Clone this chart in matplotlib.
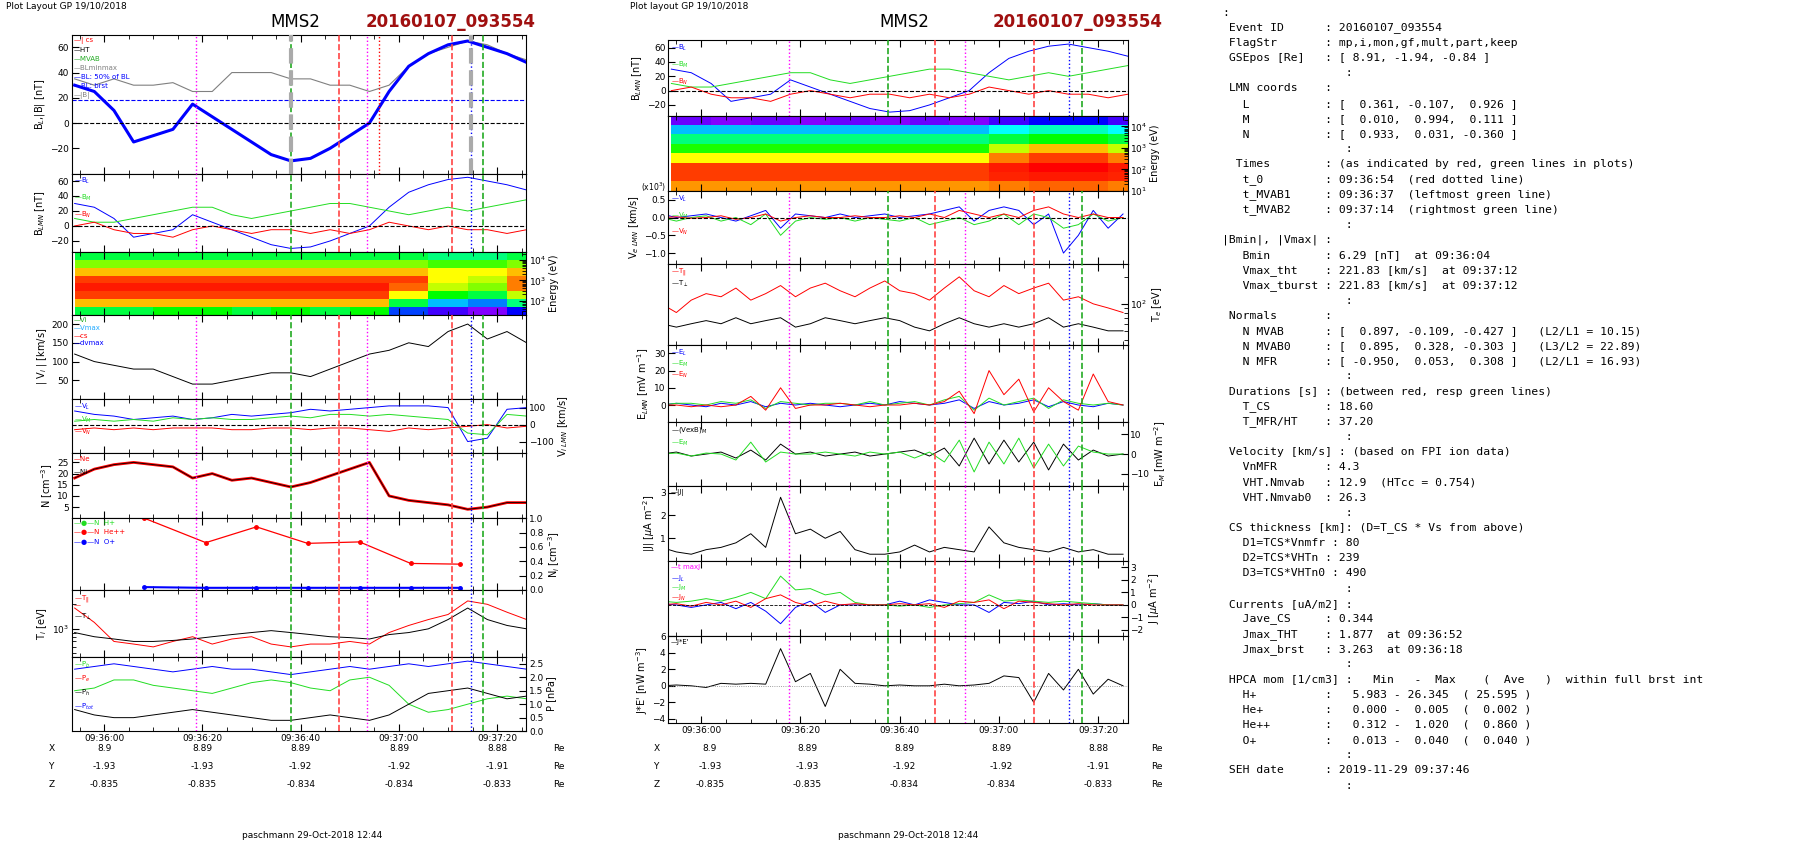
import numpy as np
import matplotlib
matplotlib.use("Agg")
import matplotlib.pyplot as plt
from matplotlib.colors import LinearSegmentedColormap
from matplotlib.ticker import NullFormatter, LogLocator, LogFormatterMathtext

# layout in reference pixels (image seen at 1560 x 727)
W, H = 1560.0, 727.0

# time grids, seconds after 09:36:00
t4 = np.arange(-6, 87, 4)
t3 = np.arange(-8, 87, 3)
tick_labels = ["09:36:00", "09:36:20", "09:36:40", "09:37:00", "09:37:20"]

# ---- left column data (4 s samples) ----
bl = [30, 25, 10, -15, -10, -5, 15, 5, -5, -15, -25, -30, -28, -20, -10, 0, 25, 45, 55, 62, 65, 60, 55, 48]
bmag = [35, 30, 35, 30, 30, 32, 25, 25, 40, 40, 40, 35, 35, 30, 30, 25, 30, 45, 55, 60, 65, 62, 55, 50]
bm = [10, 5, 5, 10, 15, 20, 25, 25, 15, 10, 15, 20, 25, 30, 30, 25, 20, 15, 20, 25, 20, 25, 30, 35]
bn = [0, 5, -5, -10, -10, -15, -5, 0, -5, -10, -5, -5, -10, -5, -10, -5, 5, 0, -5, 0, -5, -5, -10, -5]
vi_abs = [120, 100, 90, 80, 80, 60, 40, 40, 50, 60, 70, 70, 60, 80, 100, 120, 130, 150, 140, 180, 200, 160, 180, 150]
vi_l = [80, 60, 50, 30, 40, 50, 30, 40, 60, 50, 60, 70, 90, 80, 90, 100, 110, 110, 110, 100, -100, -80, 90, 100]
vi_m = [20, 30, 20, 30, 20, 40, 30, 40, 30, 30, 40, 50, 40, 60, 60, 50, 60, 50, 40, 30, -50, -60, 60, 50]
vi_n = [-30, -20, -30, -20, -30, -20, -20, -20, -30, -30, -20, -20, -30, -20, -20, -30, -40, -20, -30, -20, -10, 0, -20, -10]
n_i = [18, 22, 24, 25, 24, 23, 18, 20, 17, 18, 16, 14, 16, 19, 22, 25, 10, 8, 7, 6, 4, 5, 7, 7]
ti_par = [1800, 1200, 700, 650, 600, 700, 800, 650, 750, 800, 650, 600, 650, 650, 700, 650, 900, 1100, 1300, 1500, 2200, 2000, 1600, 1300]
ti_perp = [900, 800, 750, 700, 700, 720, 750, 800, 850, 900, 950, 900, 850, 800, 780, 750, 850, 900, 1000, 1300, 1800, 1300, 1100, 1000]
p_tot = [2.3, 2.4, 2.5, 2.4, 2.3, 2.2, 2.3, 2.4, 2.3, 2.3, 2.2, 2.1, 2.2, 2.3, 2.4, 2.3, 2.4, 2.5, 2.4, 2.5, 2.6, 2.5, 2.4, 2.3]
p_b = [1.5, 1.6, 1.9, 1.9, 1.7, 1.6, 1.5, 1.4, 1.6, 1.8, 1.9, 1.8, 1.6, 1.5, 1.9, 2.0, 1.7, 1.0, 0.7, 0.8, 1.0, 1.2, 1.3, 1.2]
p_h = [0.8, 0.6, 0.5, 0.5, 0.6, 0.7, 0.8, 0.7, 0.6, 0.5, 0.4, 0.4, 0.5, 0.6, 0.5, 0.4, 0.6, 1.0, 1.4, 1.5, 1.6, 1.4, 1.2, 1.3]
hepp_t = [8.2, 20.7, 31, 41.4, 52, 62.4, 72.5]
hepp_n = [1.0, 0.66, 0.88, 0.65, 0.67, 0.37, 0.36]
op_n = [0.04, 0.03, 0.03, 0.03, 0.03, 0.03, 0.03]

# spectrogram bins: 8 energy rows (low to high) x 12 time columns of 8 s
spec_t = np.arange(-6, 91, 8)
ion_e = np.logspace(1.3, 4.4, 9)
ion_spec = [
    [0.55, 0.55, 0.6, 0.6, 0.55, 0.6, 0.55, 0.6, 0.25, 0.15, 0.1, 0.2],
    [0.85, 0.85, 0.85, 0.85, 0.85, 0.85, 0.85, 0.85, 0.55, 0.35, 0.3, 0.5],
    [0.95, 0.95, 0.95, 0.95, 0.95, 0.95, 0.95, 0.95, 0.8, 0.6, 0.55, 0.75],
    [0.98, 0.98, 0.98, 0.98, 0.98, 0.98, 0.98, 0.98, 0.92, 0.75, 0.7, 0.9],
    [0.95, 0.95, 0.95, 0.95, 0.95, 0.95, 0.95, 0.95, 0.95, 0.8, 0.75, 0.9],
    [0.85, 0.85, 0.85, 0.85, 0.85, 0.85, 0.85, 0.85, 0.85, 0.8, 0.8, 0.85],
    [0.7, 0.7, 0.7, 0.7, 0.7, 0.7, 0.7, 0.7, 0.7, 0.65, 0.65, 0.7],
    [0.55, 0.55, 0.55, 0.55, 0.55, 0.55, 0.55, 0.55, 0.55, 0.5, 0.5, 0.55],
]
ele_e = np.logspace(1.0, 4.5, 9)
ele_spec = [
    [0.88, 0.88, 0.88, 0.88, 0.88, 0.88, 0.88, 0.88, 0.9, 0.92, 0.92, 0.9],
    [0.95, 0.95, 0.95, 0.95, 0.95, 0.95, 0.95, 0.95, 0.97, 0.98, 0.98, 0.97],
    [0.95, 0.95, 0.95, 0.95, 0.95, 0.95, 0.95, 0.95, 0.98, 1.0, 1.0, 0.98],
    [0.8, 0.8, 0.8, 0.8, 0.8, 0.8, 0.8, 0.8, 0.9, 0.95, 0.95, 0.9],
    [0.62, 0.62, 0.62, 0.62, 0.62, 0.62, 0.62, 0.62, 0.75, 0.85, 0.85, 0.75],
    [0.5, 0.5, 0.5, 0.5, 0.5, 0.5, 0.5, 0.5, 0.55, 0.6, 0.6, 0.55],
    [0.35, 0.35, 0.35, 0.35, 0.35, 0.35, 0.35, 0.35, 0.4, 0.45, 0.45, 0.4],
    [0.12, 0.1, 0.12, 0.1, 0.12, 0.1, 0.12, 0.1, 0.15, 0.2, 0.2, 0.15],
]

# ---- middle column data (3 s samples) ----
ve_l = [0.1, 0, 0.05, 0.1, 0, -0.1, 0.05, 0.2, -0.3, 0.1, 0.05, 0, 0.1, 0, 0.05, 0.1, 0, 0.05, 0.1, 0.2, 0.3, -0.1, 0.2, 0.3, 0.2, -0.2, 0.1, -1.0, -0.5, 0.2, -0.3, 0.1]
ve_m = [0, -0.1, 0, 0.05, -0.1, 0, -0.2, 0.1, -0.5, -0.1, 0, -0.05, 0, -0.1, 0, -0.05, -0.1, 0, -0.2, -0.1, 0, -0.2, -0.1, 0.1, -0.2, 0.1, 0, -0.3, -0.2, 0.1, -0.1, 0]
ve_n = [0, 0.02, -0.02, 0, 0.05, -0.05, 0, 0.1, -0.1, 0, 0.05, 0, 0, 0.05, 0, 0, 0.05, 0, 0.1, 0, 0.2, 0.1, 0, 0.1, 0, 0.2, 0.3, 0.1, 0, 0.1, 0, 0]
te_par = [100, 80, 110, 130, 120, 150, 110, 130, 160, 120, 150, 170, 140, 120, 150, 180, 140, 130, 110, 150, 200, 140, 120, 160, 130, 150, 170, 110, 120, 100, 90, 80]
te_perp = [60, 55, 60, 65, 60, 70, 60, 65, 70, 55, 60, 70, 65, 60, 65, 70, 65, 55, 50, 60, 70, 60, 55, 60, 55, 60, 70, 55, 60, 55, 50, 50]
e_l = [0, 1, 0, -1, 1, 0, 2, -1, 1, 0, 1, 0, -1, 0, 1, 0, 2, 1, 0, 1, 3, -2, 2, 0, 1, 3, -1, 2, 0, -1, 1, 0]
e_m = [0, 1, 1, 0, 2, 1, 3, -2, 2, 1, 0, 1, 1, 0, 2, 0, 1, 2, 0, 3, 5, -3, 4, 0, 2, 4, -2, 3, 1, 0, 1, 0]
e_n = [0, 0, -1, 0, -1, 0, 5, -3, 10, -2, 0, 0, 1, 0, -1, 0, 0, 1, 0, 2, 8, -5, 20, 6, 15, -4, 10, 2, -3, 18, 2, 0]
vexb_m = [0, 1, -1, 0, 1, -2, 2, -3, 5, 0, 1, -1, 0, 1, -1, 0, 1, 2, -1, 3, -6, 8, -5, 7, -4, 6, -8, 5, -3, 2, -1, 0]
em_green = [0, 0.5, -1, 0.5, 0, -3, 6, -4, 1, 0, 0, 1, 0, -1, 1, 0, 1, -2, 1, -4, 7, -9, 6, -5, 8, -7, 5, -6, 4, 1, 0, 0]
j_abs = [0.6, 0.4, 0.3, 0.5, 0.6, 0.8, 1.2, 0.6, 2.8, 1.2, 1.4, 1.0, 1.3, 0.5, 0.3, 0.3, 0.4, 0.7, 0.4, 0.6, 0.5, 0.4, 1.5, 0.8, 0.6, 0.5, 0.4, 0.6, 0.4, 0.5, 0.3, 0.3]
j_l = [0.1, 0, -0.2, 0, 0.2, -0.3, 0.2, -0.5, -1.5, -0.2, 0.3, -0.6, 0, 0, 0, 0, 0.3, 0, 0.4, 0.2, 0, 0, -0.6, 0.2, 0.1, 0.3, 0, 0.1, 0, 0.1, 0, 0]
j_m = [0.3, 0.2, 0.3, 0.5, 0.3, 0.6, 1.0, 0.5, 2.3, 1.2, 1.3, 0.8, 1.0, 0.2, 0, 0, -0.1, 0, -0.2, 0, 0.1, 0.2, 0.8, 0.3, 0.4, 0.3, 0.2, 0.3, 0.2, 0.1, 0, 0]
j_n = [0, 0.1, -0.1, 0.2, 0, 0.3, -0.2, 0.5, 0.8, 0.2, -0.1, 0.3, 0, 0.1, 0, 0, 0.1, 0, 0.1, -0.2, 0.3, 0.2, 0.4, -0.3, 0.3, 0.2, 0.1, 0, 0.1, 0, 0, 0]
je = [0, 0.1, 0, -0.2, 0.3, 0.2, 0.3, 0.2, 4.5, 0.5, 1.5, -2.5, 2, 0.3, 0.2, 0, 0.1, 0, 0, 0.2, 0, 0.1, 0.3, 1.2, 1.0, -2, 1.5, -0.5, 2, -1, 0.8, 0]

# positions under the panels
pos_x = ["8.9", "8.89", "8.89", "8.89", "8.88"]
pos_y = ["-1.93", "-1.93", "-1.92", "-1.92", "-1.91"]
pos_z = ["-0.835", "-0.835", "-0.834", "-0.834", "-0.833"]

info_lines = [
    ":",
    " Event ID      : 20160107_093554",
    " FlagStr       : mp,i,mon,gf,mult,part,keep",
    " GSEpos [Re]   : [ 8.91, -1.94, -0.84 ]",
    "                  :",
    " LMN coords    :",
    "   L           : [  0.361, -0.107,  0.926 ]",
    "   M           : [  0.010,  0.994,  0.111 ]",
    "   N           : [  0.933,  0.031, -0.360 ]",
    "                  :",
    "  Times        : (as indicated by red, green lines in plots)",
    "   t_0         : 09:36:54  (red dotted line)",
    "   t_MVAB1     : 09:36:37  (leftmost green line)",
    "   t_MVAB2     : 09:37:14  (rightmost green line)",
    "                  :",
    "|Bmin|, |Vmax| :",
    "   Bmin        : 6.29 [nT]  at 09:36:04",
    "   Vmax_tht    : 221.83 [km/s]  at 09:37:12",
    "   Vmax_tburst : 221.83 [km/s]  at 09:37:12",
    "                  :",
    " Normals       :",
    "   N MVAB      : [  0.897, -0.109, -0.427 ]   (L2/L1 = 10.15)",
    "   N MVAB0     : [  0.895,  0.328, -0.303 ]   (L3/L2 = 22.89)",
    "   N MFR       : [ -0.950,  0.053,  0.308 ]   (L2/L1 = 16.93)",
    "                  :",
    " Durations [s] : (between red, resp green lines)",
    "   T_CS        : 18.60",
    "   T_MFR/HT    : 37.20",
    "                  :",
    " Velocity [km/s] : (based on FPI ion data)",
    "   VnMFR       : 4.3",
    "   VHT.Nmvab   : 12.9  (HTcc = 0.754)",
    "   VHT.Nmvab0  : 26.3",
    "                  :",
    " CS thickness [km]: (D=T_CS * Vs from above)",
    "   D1=TCS*Vnmfr : 80",
    "   D2=TCS*VHTn : 239",
    "   D3=TCS*VHTn0 : 490",
    "                  :",
    " Currents [uA/m2] :",
    "   Jave_CS     : 0.344",
    "   Jmax_THT    : 1.877  at 09:36:52",
    "   Jmax_brst   : 3.263  at 09:36:18",
    "                  :",
    " HPCA mom [1/cm3] :   Min   -  Max    (  Ave   )  within full brst int",
    "   H+          :   5.983 - 26.345  ( 25.595 )",
    "   He+         :   0.000 -  0.005  (  0.002 )",
    "   He++        :   0.312 -  1.020  (  0.860 )",
    "   O+          :   0.013 -  0.040  (  0.040 )",
    "                  :",
    " SEH date      : 2019-11-29 09:37:46",
    "                  :",
]

cmap = LinearSegmentedColormap.from_list(
    "idl", ["#ff00ff", "#0000ff", "#00ffff", "#00ff00", "#ffff00", "#ff0000"])

FS = 6.5
fig = plt.figure(figsize=(18.04, 8.41), dpi=100)


def panel(x0, x1, y0, y1, ylabel, right=False):
    ax = fig.add_axes([x0 / W, 1 - y1 / H, (x1 - x0) / W, (y1 - y0) / H])
    ax.set_xlim(-6.6, 85.9)
    ax.set_xticks([0, 20, 40, 60, 80])
    ax.set_xticks(np.arange(-5, 86, 5), minor=True)
    ax.set_xticklabels([])
    ax.tick_params(labelsize=FS, direction="in", top=True, length=5, width=0.8, pad=2)
    ax.tick_params(which="minor", direction="in", top=True, length=3)
    for s in ax.spines.values():
        s.set_linewidth(0.8)
    if right:
        ax.yaxis.tick_right()
        ax.yaxis.set_label_position("right")
    ax.set_ylabel(ylabel, fontsize=FS + 0.5, labelpad=2)
    return ax


def logy(ax, lo, hi):
    ax.set_yscale("log")
    ax.set_ylim(lo, hi)
    ax.yaxis.set_major_locator(LogLocator(base=10))
    ax.yaxis.set_major_formatter(LogFormatterMathtext())
    ax.yaxis.set_minor_formatter(NullFormatter())


def vlines(ax, lines):
    for t, c, ls, lw in lines:
        ax.axvline(t, color=c, ls=ls, lw=lw, zorder=5)


def legend(ax, names, colors, step=6.5):
    for i, (n, c) in enumerate(zip(names, colors)):
        ax.annotate("\u2014" + n, xy=(0.005, 1.0), xycoords="axes fraction",
                    xytext=(0, -2 - i * step), textcoords="offset points",
                    color=c, fontsize=5, va="top")


left_lines = [(18.8, "magenta", ":", 1), (38.1, "#22aa22", "--", 1.2), (47.8, "#ff4444", "--", 1.2),
              (53.6, "magenta", ":", 1), (70.8, "#ff4444", "--", 1.2), (74.6, "blue", ":", 1),
              (77.2, "#22aa22", "--", 1.2)]
mid_lines = [(17.6, "magenta", ":", 1), (37.6, "#22aa22", "--", 1.2), (47.1, "#ff4444", "--", 1.2),
             (53.1, "magenta", ":", 1), (67.0, "#ff4444", "--", 1.2), (74.2, "blue", ":", 1),
             (76.7, "#22aa22", "--", 1.2)]

# ================= left column =================
LX0, LX1 = 62, 455
ax = panel(LX0, LX1, 30, 150, r"B$_L$,|B| [nT]")
ax.plot(t4, bmag, color="gray", lw=0.8)
ax.plot(t4, bl, color="blue", lw=2.2)
ax.axhline(18, color="blue", ls="--", lw=0.8)
ax.axhline(0, color="black", ls="--", lw=0.8)
ax.set_ylim(-40, 70)
ax.set_yticks([-20, 0, 20, 40, 60])
vlines(ax, left_lines)
vlines(ax, [(38.1, "#aaaaaa", "--", 3), (74.6, "#aaaaaa", "--", 3), (56, "red", ":", 1)])
legend(ax, ["| cs", "HT", "MVAB", "BLminmax", "BL: 50% of BL", "BL: brst", "|B|"],
       ["red", "black", "#22aa22", "gray", "blue", "blue", "gray"])

ax = panel(LX0, LX1, 150, 218, r"B$_{LMN}$ [nT]")
ax.plot(t4, bl, color="blue", lw=0.7)
ax.plot(t4, bm, color="#22dd22", lw=0.7)
ax.plot(t4, bn, color="red", lw=0.7)
ax.axhline(0, color="black", ls="--", lw=0.8)
ax.set_ylim(-35, 70)
ax.set_yticks([-20, 0, 20, 40, 60])
vlines(ax, left_lines)
legend(ax, ["B$_L$", "B$_M$", "B$_N$"], ["blue", "#22dd22", "red"], step=12)

ax = panel(LX0, LX1, 218, 272, "Energy (eV)", right=True)
ax.pcolormesh(spec_t, ion_e, np.array(ion_spec), cmap=cmap, vmin=0, vmax=1)
logy(ax, ion_e[0], ion_e[-1])

ax = panel(LX0, LX1, 272, 345, r"| V$_i$ | [km/s]")
ax.plot(t4, vi_abs, color="black", lw=0.7)
ax.set_ylim(0, 225)
ax.set_yticks([50, 100, 150, 200])
vlines(ax, left_lines)
legend(ax, ["Vi", "Vmax", "cs", "dvmax"], ["#22aa22", "#22aaff", "red", "blue"], step=5.5)

ax = panel(LX0, LX1, 345, 392, r"V$_{i\ LMN}$ [km/s]", right=True)
ax.plot(t4, vi_l, color="blue", lw=0.7)
ax.plot(t4, vi_m, color="#22dd22", lw=0.7)
ax.plot(t4, vi_n, color="red", lw=0.7)
ax.axhline(0, color="black", ls="--", lw=0.8)
ax.set_ylim(-170, 150)
ax.set_yticks([-100, 0, 100])
vlines(ax, left_lines)
legend(ax, ["V$_L$", "V$_M$", "V$_N$"], ["blue", "#22dd22", "red"], step=9)

ax = panel(LX0, LX1, 392, 448, r"N [cm$^{-3}$]")
ax.plot(t4, n_i, color="red", lw=2)
ax.plot(t4, n_i, color="black", lw=0.6)
ax.set_ylim(0, 29)
ax.set_yticks([5, 10, 15, 20, 25])
vlines(ax, left_lines)
legend(ax, ["Ne", "Ni"], ["red", "black"], step=9)

ax = panel(LX0, LX1, 448, 510, r"N$_i$ [cm$^{-3}$]", right=True)
ax.plot(hepp_t, hepp_n, color="red", marker="o", ms=2.5, lw=0.9)
ax.plot(hepp_t, op_n, color="blue", marker="o", ms=2.5, lw=1.5)
ax.set_ylim(0, 1.0)
ax.set_yticks([0.0, 0.2, 0.4, 0.6, 0.8, 1.0])
ax.set_yticklabels(["0.0", "0.2", "0.4", "0.6", "0.8", "1.0"])
vlines(ax, left_lines)
for i, (n, c) in enumerate(zip(["N  H+", "N  He++", "N  O+"], ["#22dd22", "red", "blue"])):
    ax.annotate("\u2014\u25cf\u2014" + n, xy=(0.005, 1.0), xycoords="axes fraction",
                xytext=(0, -1 - i * 7), textcoords="offset points",
                color=c, fontsize=5, va="top")

ax = panel(LX0, LX1, 510, 568, r"T$_i$ [eV]")
ax.plot(t4, ti_par, color="red", lw=0.7)
ax.plot(t4, ti_perp, color="black", lw=0.7)
logy(ax, 450, 3000)
vlines(ax, left_lines)
legend(ax, ["T$_{||}$", "", "T$_\\perp$"], ["red", "red", "black"], step=7)

ax = panel(LX0, LX1, 568, 632, "P [nPa]", right=True)
ax.plot(t4, p_tot, color="blue", lw=0.7)
ax.plot(t4, p_b, color="#22dd22", lw=0.7)
ax.plot(t4, p_h, color="black", lw=0.7)
ax.set_ylim(0, 2.75)
ax.set_yticks([0.0, 0.5, 1.0, 1.5, 2.0, 2.5])
vlines(ax, left_lines)
legend(ax, ["P$_b$", "P$_e$", "P$_h$", "P$_{tot}$"], ["#22dd22", "red", "black", "blue"], step=10)
ax.set_xticklabels(tick_labels)

# ================= middle column =================
MX0, MX1 = 578, 975
ax = panel(MX0, MX1, 35, 100, r"B$_{LMN}$ [nT]")
ax.plot(t4, bl, color="blue", lw=0.7)
ax.plot(t4, bm, color="#22dd22", lw=0.7)
ax.plot(t4, bn, color="red", lw=0.7)
ax.axhline(0, color="black", ls="--", lw=0.8)
ax.set_ylim(-35, 70)
ax.set_yticks([-20, 0, 20, 40, 60])
vlines(ax, mid_lines)
legend(ax, ["B$_L$", "B$_M$", "B$_N$"], ["blue", "#22dd22", "red"], step=12)

ax = panel(MX0, MX1, 100, 165, "Energy (eV)", right=True)
ax.pcolormesh(spec_t, ele_e, np.array(ele_spec), cmap=cmap, vmin=0, vmax=1)
logy(ax, ele_e[0], ele_e[-1])

ax = panel(MX0, MX1, 165, 228, r"V$_{e\ LMN}$ [km/s]")
ax.plot(t3, ve_l, color="blue", lw=0.7)
ax.plot(t3, ve_m, color="#22dd22", lw=0.7)
ax.plot(t3, ve_n, color="red", lw=0.7)
ax.axhline(0, color="black", ls="--", lw=0.8)
ax.set_ylim(-1.3, 0.75)
ax.set_yticks([-1.0, -0.5, 0.0, 0.5])
fig.text((MX0 - 2) / W, 1 - 162 / H, r"(x10$^3$)", fontsize=5.5, ha="right", va="center")
vlines(ax, mid_lines)
legend(ax, ["V$_L$", "V$_M$", "V$_N$"], ["blue", "#22dd22", "red"], step=12)

ax = panel(MX0, MX1, 228, 298, r"T$_e$ [eV]", right=True)
ax.plot(t3, te_par, color="red", lw=0.7)
ax.plot(t3, te_perp, color="black", lw=0.7)
logy(ax, 35, 280)
vlines(ax, mid_lines)
legend(ax, ["T$_{||}$", "T$_\\perp$"], ["red", "black"], step=9)

ax = panel(MX0, MX1, 298, 365, r"E$_{LMN}$ [mV m$^{-1}$]")
ax.plot(t3, e_l, color="blue", lw=0.7)
ax.plot(t3, e_m, color="#22dd22", lw=0.7)
ax.plot(t3, e_n, color="red", lw=0.7)
ax.set_ylim(-10, 35)
ax.set_yticks([0, 10, 20, 30])
vlines(ax, mid_lines)
legend(ax, ["E$_L$", "E$_M$", "E$_N$"], ["blue", "#22dd22", "red"], step=8)

ax = panel(MX0, MX1, 365, 420, r"E$_M$ [mW m$^{-2}$]", right=True)
ax.plot(t3, vexb_m, color="black", lw=0.7)
ax.plot(t3, em_green, color="#22dd22", lw=0.7)
ax.set_ylim(-16, 16)
ax.set_yticks([-10, 0, 10])
vlines(ax, mid_lines)
legend(ax, ["(VexB)$_M$", "E$_M$"], ["black", "#22dd22"], step=9)

ax = panel(MX0, MX1, 420, 485, r"|J| [$\mu$A m$^{-2}$]")
ax.plot(t3, j_abs, color="black", lw=0.7)
ax.set_ylim(0, 3.3)
ax.set_yticks([1, 2, 3])
vlines(ax, mid_lines)
legend(ax, ["|J|"], ["black"])

ax = panel(MX0, MX1, 485, 550, r"J [$\mu$A m$^{-2}$]", right=True)
ax.plot(t3, j_l, color="blue", lw=0.7)
ax.plot(t3, j_m, color="#22dd22", lw=0.7)
ax.plot(t3, j_n, color="red", lw=0.7)
ax.axhline(0, color="black", ls="--", lw=0.6)
ax.set_ylim(-2.5, 3.5)
ax.set_yticks([-2, -1, 0, 1, 2, 3])
vlines(ax, mid_lines)
legend(ax, ["t maxJ", "J$_L$", "J$_M$", "J$_N$"], ["magenta", "blue", "#22dd22", "red"], step=7)

ax = panel(MX0, MX1, 550, 625, r"J*E' [nW m$^{-3}$]")
ax.plot(t3, je, color="black", lw=0.7)
ax.axhline(0, color="gray", ls=":", lw=0.6)
ax.set_ylim(-4.5, 6)
ax.set_yticks([-4, -2, 0, 2, 4, 6])
vlines(ax, mid_lines)
legend(ax, ["J*E'"], ["black"])
ax.set_xticklabels(tick_labels)

# ---- titles, position rows and footers ----
for x_plot, x_mms, x_id, label in [(5, 255, 390, "Plot Layout GP 19/10/2018"),
                                   (545, 782, 932, "Plot layout GP 19/10/2018")]:
    fig.text(x_plot / W, 1 - 6 / H, label, fontsize=6.5, va="center")
    fig.text(x_mms / W, 1 - 19 / H, "MMS2", fontsize=12, ha="center", va="center")
    fig.text(x_id / W, 1 - 19 / H, "20160107_093554", fontsize=12, color="#a01010",
             weight="bold", ha="center", va="center")

for x_lab, tick_x, x_re, x_foot in [(42, [90, 175, 260, 345, 430], 478, 270),
                                    (565, [614, 698, 782, 866, 950], 995, 785)]:
    for row, (name, vals) in enumerate([("X", pos_x), ("Y", pos_y), ("Z", pos_z)]):
        y = 1 - (647 + row * 15.5) / H
        fig.text(x_lab / W, y, name, fontsize=FS, va="center")
        for xv, v in zip(tick_x, vals):
            fig.text(xv / W, y, v, fontsize=FS, ha="center", va="center")
        fig.text(x_re / W, y, "Re", fontsize=FS, va="center")
    fig.text(x_foot / W, 1 - 722 / H, "paschmann 29-Oct-2018 12:44", fontsize=6.5,
             ha="center", va="center")

for i, line in enumerate(info_lines):
    fig.text(1057 / W, 1 - (11 + 13.1 * i) / H, line, fontsize=8.2,
             family="DejaVu Sans Mono", va="center")

fig.savefig("out.png", dpi=100)
